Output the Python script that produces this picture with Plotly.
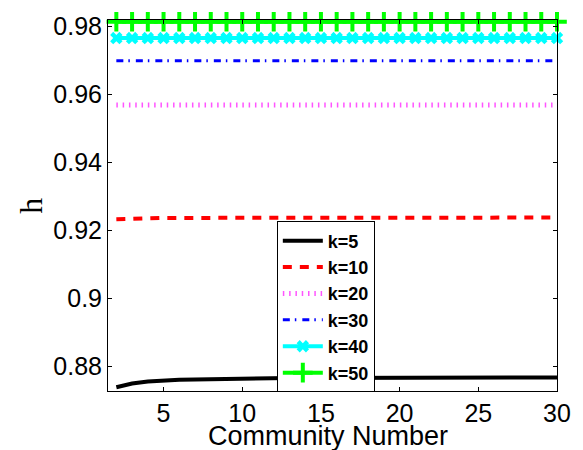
import plotly.graph_objects as go

# Community numbers on the x axis
community = list(range(2, 31))

# h values for each k
h_k5 = [0.8739, 0.8750, 0.8756, 0.8759, 0.8761, 0.8762, 0.8763, 0.8764, 0.8765,
        0.8765, 0.8766, 0.8766, 0.8766, 0.8766, 0.8767, 0.8767, 0.8767, 0.8767,
        0.8767, 0.8767, 0.8768, 0.8768, 0.8768, 0.8768, 0.8768, 0.8768, 0.8768,
        0.8768, 0.8768]
h_k10 = [0.9233, 0.9235, 0.9236, 0.9237, 0.9237, 0.9237, 0.9238, 0.9238, 0.9238,
         0.9238, 0.9238, 0.9238, 0.9238, 0.9238, 0.9238, 0.9238, 0.9238, 0.9238,
         0.9238, 0.9238, 0.9238, 0.9238, 0.9238, 0.9238, 0.9238, 0.9238, 0.9238,
         0.9238, 0.9238]
h_k20 = [0.9569] * len(community)
h_k30 = [0.9699] * len(community)
h_k40 = [0.9766] * len(community)
h_k50 = [0.9814] * len(community)

x_ticks = [5, 10, 15, 20, 25, 30]
y_ticks = [0.88, 0.90, 0.92, 0.94, 0.96, 0.98]
y_tick_text = ["0.88", "0.9", "0.92", "0.94", "0.96", "0.98"]

fig = go.Figure()

fig.add_trace(go.Scatter(x=community, y=h_k5, name="k=5", mode="lines",
                         line=dict(color="#000000", width=4)))
fig.add_trace(go.Scatter(x=community, y=h_k10, name="k=10", mode="lines",
                         line=dict(color="#ff0000", width=4, dash="9px,8px")))
fig.add_trace(go.Scatter(x=community, y=h_k20, name="k=20", mode="lines",
                         line=dict(color="#ff55ff", width=5, dash="1.5px,4.8px")))
fig.add_trace(go.Scatter(x=community, y=h_k30, name="k=30", mode="lines",
                         line=dict(color="#0000ff", width=3, dash="7px,5px,1.5px,6px")))
fig.add_trace(go.Scatter(x=community, y=h_k40, name="k=40", mode="lines+markers",
                         line=dict(color="#00ffff", width=4),
                         marker=dict(symbol="x", size=11, color="#00ffff"),
                         cliponaxis=False))
fig.add_trace(go.Scatter(x=community, y=h_k50, name="k=50", mode="lines+markers",
                         line=dict(color="#00ff00", width=4),
                         marker=dict(symbol="cross-thin", size=14, color="#00ff00",
                                     line=dict(color="#00ff00", width=4)),
                         cliponaxis=False))

axis_font = dict(family="Liberation Sans, Arial, sans-serif", size=25, color="#000000")

fig.update_layout(
    width=583, height=450,
    margin=dict(l=108, r=26, t=13, b=59),
    paper_bgcolor="#ffffff", plot_bgcolor="#ffffff",
    showlegend=True,
    legend=dict(
        x=0.376, y=0.457, xanchor="left", yanchor="top",
        bgcolor="#ffffff", bordercolor="#000000", borderwidth=1,
        font=dict(family="Liberation Sans, Arial, sans-serif", size=18,
                  color="#000000", weight="bold"),
        tracegroupgap=0, itemwidth=40,
    ),
    xaxis=dict(
        range=[1.47, 30], tickvals=x_ticks, ticktext=[str(v) for v in x_ticks],
        ticks="inside", ticklen=4, tickwidth=1, tickcolor="#000000",
        showline=True, linecolor="#000000", linewidth=1, mirror="ticks",
        showgrid=False, zeroline=False, tickfont=axis_font,
    ),
    yaxis=dict(
        range=[0.8728, 0.9819], tickvals=y_ticks, ticktext=y_tick_text,
        ticks="inside", ticklen=4, tickwidth=1, tickcolor="#000000",
        showline=True, linecolor="#000000", linewidth=1, mirror="ticks",
        showgrid=False, zeroline=False, tickfont=axis_font,
    ),
    annotations=[
        dict(text="Community Number", xref="paper", yref="paper",
             x=0.49, y=-0.076, xanchor="center", yanchor="top", showarrow=False,
             font=dict(family="Liberation Sans, Arial, sans-serif", size=27,
                       color="#000000")),
        dict(text="h", xref="paper", yref="paper",
             x=-0.173, y=0.50, xanchor="center", yanchor="middle", showarrow=False,
             textangle=-90,
             font=dict(family="Liberation Serif, Times New Roman, serif", size=32,
                       color="#000000")),
    ],
)

fig.write_html("out.html")
